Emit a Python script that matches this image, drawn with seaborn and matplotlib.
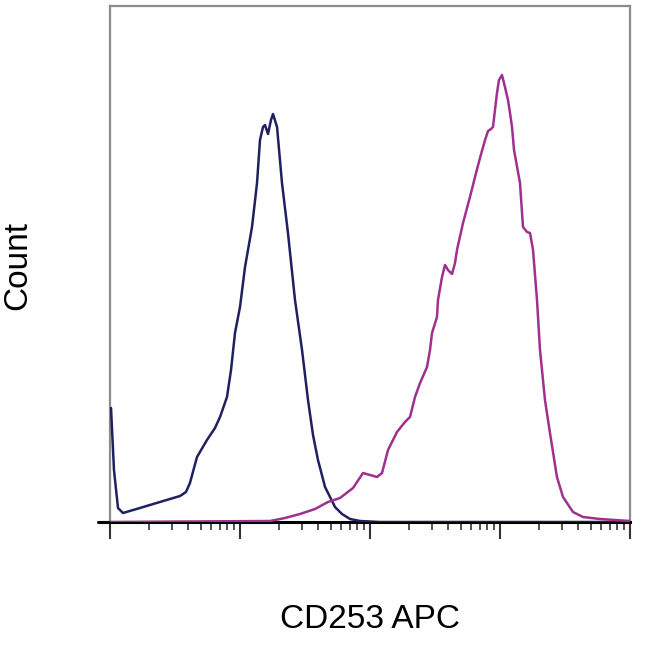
import matplotlib
matplotlib.use("Agg")
import matplotlib.pyplot as plt
import seaborn as sns
import numpy as np
from matplotlib.ticker import LogLocator, NullFormatter

# ---- data ----
isotype_x = [1.018, 1.073, 1.152, 1.259, 1.70, 2.42, 3.46, 3.84, 4.12, 4.67, 5.57, 6.42,
             7.02, 7.94, 8.53, 9.15, 10.0, 10.93, 12.37, 13.52, 14.25, 15.03, 15.57,
             16.42, 17.31, 17.95, 19.27, 21.04, 23.39, 26.49, 30.0, 33.35, 36.44, 39.8,
             45.1, 53.8, 60.9, 70.2, 83.7, 119, 10000]
isotype_count = [57, 26, 7, 4.5, 7, 10, 13, 15, 19.5, 32.5, 41, 47,
                 52.5, 62.5, 76, 94.5, 107.5, 127.5, 147.5, 169.5, 191, 197.5, 198.5,
                 194, 201, 204, 197.5, 169.5, 144.5, 111, 86, 61, 43.5, 31,
                 17.5, 7.5, 4, 1.5, 0.5, 0, 0]

stained_x = [1.0, 17.02, 22.19, 28.94, 37.76, 47.5, 58.8, 74.0, 88.4, 100, 113.2, 123.7,
             137.6, 161.3, 185.8, 203.1, 221.9, 242.7, 274.5, 289.4, 299.9, 327.5, 333.4,
             358.1, 377.6, 398.1, 427.6, 450.8, 466.8, 519.3, 587.5, 642.4, 701.5, 767.4,
             809, 853, 883, 915, 948, 982, 1036, 1092, 1152, 1194, 1237, 1282, 1425, 1503,
             1614, 1702, 1795, 1926, 2031, 2218, 2424, 2742, 3052, 3644, 4348, 5876, 10000]
stained_count = [0, 0.5, 2, 4, 6.5, 10, 12, 17, 24.5, 23.5, 22.5, 24.5,
                 36, 45, 50, 52.5, 62.5, 69.5, 77.5, 86, 94.5, 102.5, 111,
                 122.5, 128.5, 126, 124, 129.5, 136, 149.5, 162.5, 172.5, 182, 191,
                 195.5, 196.5, 197.5, 206, 214.5, 221, 223.5, 217.5, 211, 204.5, 197.5, 186,
                 169.5, 147.5, 145, 144.5, 136, 111, 86, 61, 44.5, 22.5, 12.5, 5, 2.5, 1.5, 0.5]

x_label = "CD253 APC"
y_label = "Count"

# ---- figure ----
sns.set_style("white")
plt.rcParams['font.family'] = ['Liberation Sans', 'DejaVu Sans']

fig = plt.figure(figsize=(6.5, 6.45), dpi=100)
ax = fig.add_axes([110 / 650, 1 - 522 / 645, 520 / 650, 516 / 645])

sns.lineplot(x=isotype_x, y=isotype_count, ax=ax, color="#202060", linewidth=1.8,
             estimator=None, sort=False, zorder=3)
sns.lineplot(x=stained_x, y=stained_count, ax=ax, color="#a0308f", linewidth=1.8,
             estimator=None, sort=False, zorder=3)

ax.set_xscale("log")
ax.set_xlim(1, 10000)
ax.set_ylim(0, 258)

ax.xaxis.set_major_locator(LogLocator(base=10, numticks=10))
ax.xaxis.set_minor_locator(LogLocator(base=10, subs=np.arange(2, 10), numticks=20))
ax.xaxis.set_major_formatter(NullFormatter())
ax.xaxis.set_minor_formatter(NullFormatter())
ax.set_yticks([])
ax.tick_params(axis="x", which="major", direction="out", length=12, width=1.5,
               color="#333333", bottom=True)
ax.tick_params(axis="x", which="minor", direction="out", length=6, width=1.3,
               color="#444444", bottom=True)

for side in ["left", "top", "right"]:
    ax.spines[side].set_color("#8c8c8c")
    ax.spines[side].set_linewidth(1.6)
ax.spines["bottom"].set_color("black")
ax.spines["bottom"].set_linewidth(2.2)

# baseline extends a little to the left of the frame
ax.plot([-0.023, 0], [0, 0], transform=ax.transAxes, color="black",
        linewidth=2.2, clip_on=False)

ax.set_xlabel(x_label, fontsize=24, color="black")
ax.xaxis.label.set_va("center")
ax.xaxis.set_label_coords(0.5, (522 - 619) / 516)
ax.set_ylabel(y_label, fontsize=24, color="black")
ax.yaxis.label.set_va("center")
ax.yaxis.set_label_coords((18 - 110) / 520, 0.5 - (266 - 264) / 516)

fig.savefig("out.png", dpi=100, facecolor="white")
